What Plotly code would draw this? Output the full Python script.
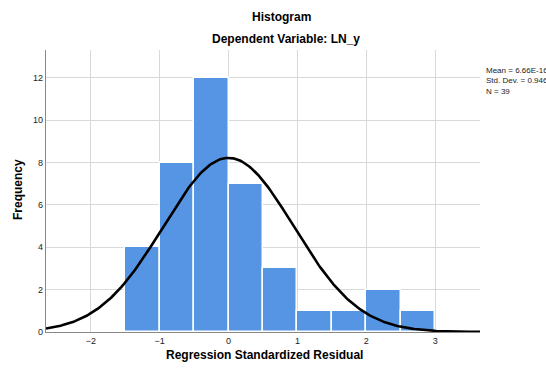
import numpy as np
import plotly.graph_objects as go

# Data
bin_left_edges = [-1.5, -1.0, -0.5, 0.0, 0.5, 1.0, 1.5, 2.0, 2.5]
bin_width = 0.5
counts = [4, 8, 12, 7, 3, 1, 1, 2, 1]
stat_mean = 0.0  # 6.66E-16
stat_sd = 0.946
stat_n = 39
stat_labels = ["Mean = 6.66E-16", "Std. Dev. = 0.946", "N = 39"]
x_ticks = [-2, -1, 0, 1, 2, 3]
y_ticks = [0, 2, 4, 6, 8, 10, 12]

centers = [e + bin_width / 2 for e in bin_left_edges]

# Fitted normal curve from the stated statistics
xs = np.linspace(-2.65, 3.65, 300)
ys = stat_n * bin_width * np.exp(-0.5 * ((xs - stat_mean) / stat_sd) ** 2) / (stat_sd * np.sqrt(2 * np.pi))

font = "Liberation Sans, Arial, sans-serif"

W, H = 546, 369
l, t = 46, 50
right_edge, bottom_edge = 480, 332
r, b = W - right_edge, H - bottom_edge
pw, ph = W - l - r, H - t - b
def px(x):
    return (x - l) / pw
def py(y):
    return (H - b - y) / ph

fig = go.Figure()
fig.add_trace(go.Bar(
    x=centers, y=counts, width=bin_width,
    marker=dict(color="#5595E4", line=dict(color="white", width=1.5)),
    showlegend=False, hoverinfo="skip",
))
fig.add_trace(go.Scatter(
    x=xs, y=ys, mode="lines", line=dict(color="black", width=2.6),
    showlegend=False, hoverinfo="skip",
))

title_font = dict(size=12, color="black", family=font)
fig.update_layout(
    width=W, height=H,
    margin=dict(l=l, r=r, t=t, b=b, autoexpand=False),
    paper_bgcolor="white", plot_bgcolor="white",
    font=dict(family=font, size=9, color="#333"),
    bargap=0,
    xaxis=dict(range=[-2.65, 3.65], tickvals=x_ticks, ticks="", showgrid=True,
               gridcolor="#d9d9d9", gridwidth=1.2, zeroline=False,
               showline=True, linecolor="#888", linewidth=1.2,
               tickfont=dict(size=9, color="#222")),
    yaxis=dict(range=[0, 13.32], tickvals=y_ticks, ticks="", showgrid=True,
               gridcolor="#d9d9d9", gridwidth=1.2, zeroline=False,
               showline=True, linecolor="#888", linewidth=1.2,
               tickfont=dict(size=9, color="#222")),
    annotations=[
        dict(text="<b>Histogram</b>", x=px(281), y=py(17), xref="paper", yref="paper",
             xanchor="center", yanchor="middle", showarrow=False, font=title_font),
        dict(text="<b>Dependent Variable: LN_y</b>", x=px(286), y=py(39), xref="paper", yref="paper",
             xanchor="center", yanchor="middle", showarrow=False, font=title_font),
        dict(text="<b>Regression Standardized Residual</b>", x=px(264), y=py(355), xref="paper", yref="paper",
             xanchor="center", yanchor="middle", showarrow=False, font=title_font),
        dict(text="<b>Frequency</b>", x=px(18), y=py(190), xref="paper", yref="paper",
             xanchor="center", yanchor="middle", showarrow=False, textangle=-90, font=title_font),
        dict(text="<br>".join(stat_labels), x=px(484), y=py(64), xref="paper", yref="paper",
             xanchor="left", yanchor="top", showarrow=False, align="left",
             font=dict(size=8, color="#222", family=font)),
    ],
)

fig.write_html(
    "out.html",
    config={"displayModeBar": False},
    post_script="document.body.style.margin='0';document.body.style.overflow='hidden';",
)
